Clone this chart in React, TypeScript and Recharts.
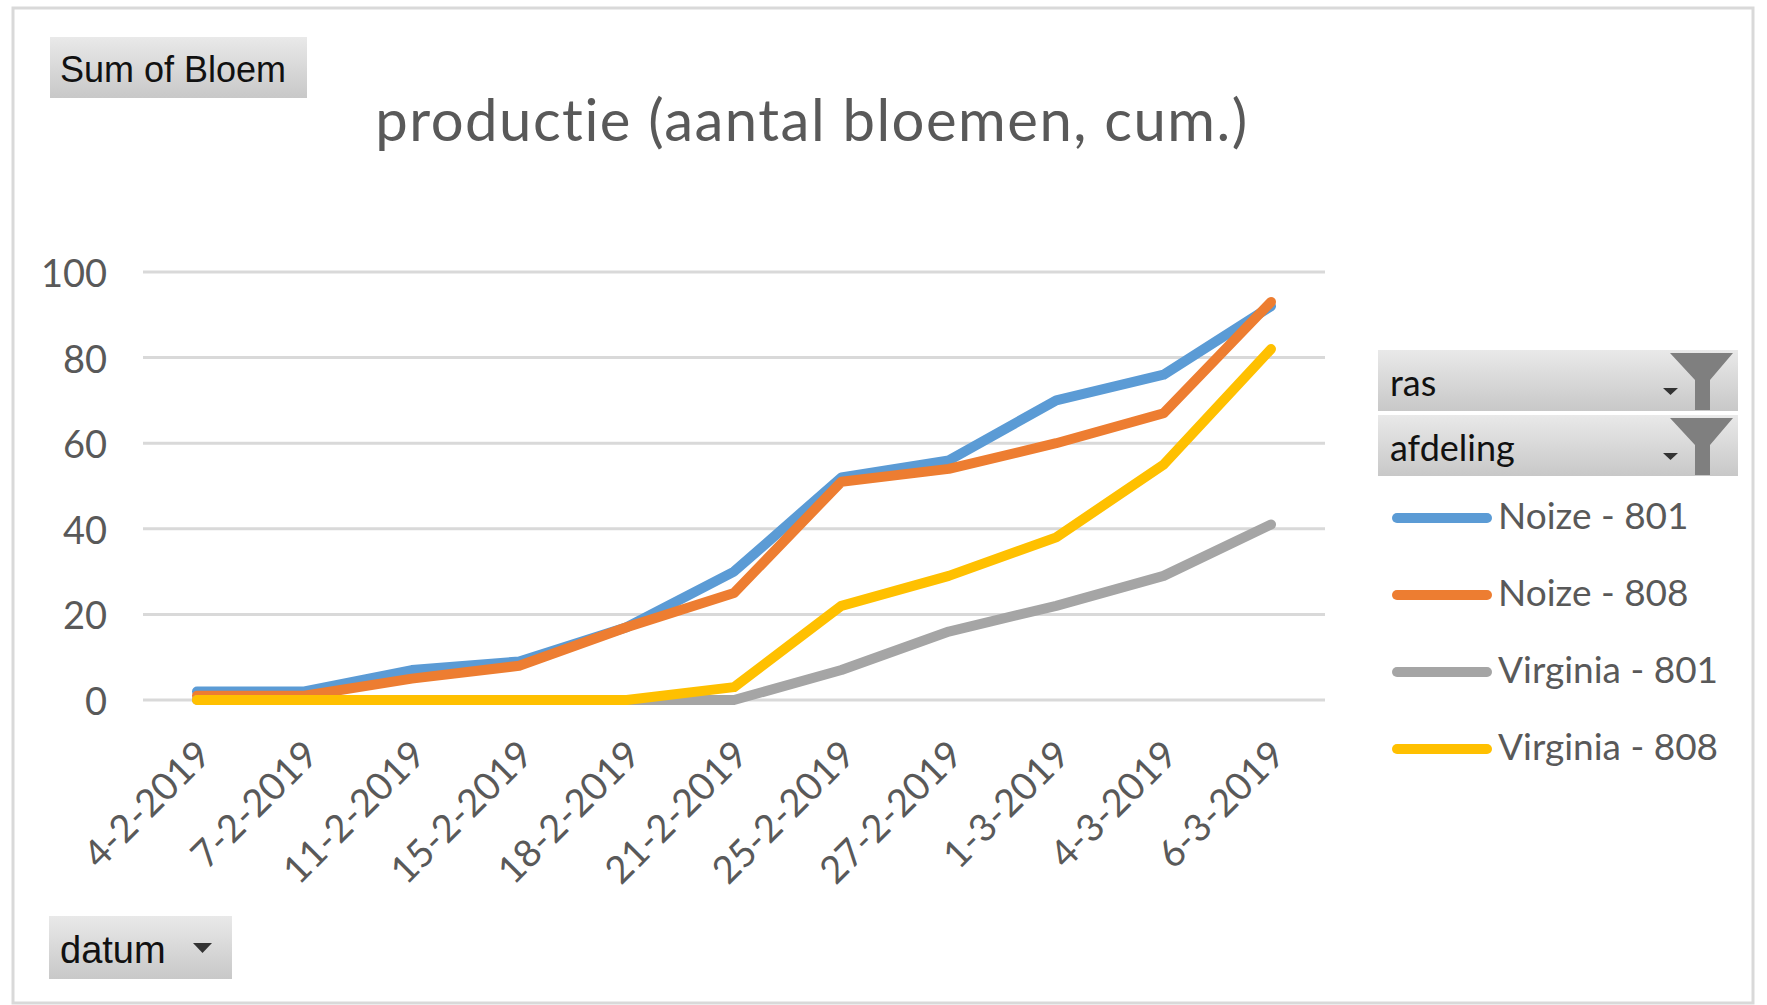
import React from 'react';
import { LineChart, Line, XAxis, YAxis, CartesianGrid } from 'recharts';

const categories = ['4-2-2019', '7-2-2019', '11-2-2019', '15-2-2019', '18-2-2019', '21-2-2019', '25-2-2019', '27-2-2019', '1-3-2019', '4-3-2019', '6-3-2019'];
const noize801 = [2, 2, 7, 9, 17, 30, 52, 56, 70, 76, 92];
const noize808 = [1, 1, 5, 8, 17, 25, 51, 54, 60, 67, 93];
const virginia801 = [0, 0, 0, 0, 0, 0, 7, 16, 22, 29, 41];
const virginia808 = [0, 0, 0, 0, 0, 3, 22, 29, 38, 55, 82];
const seriesKeys = ['n801', 'n808', 'v801', 'v808'];
const seriesNames = ['Noize - 801', 'Noize - 808', 'Virginia - 801', 'Virginia - 808'];
const seriesColors = ['#5B9BD5', '#ED7D31', '#A5A5A5', '#FFC000'];
const yTicks = [0, 20, 40, 60, 80, 100];
const titleText = 'productie (aantal bloemen, cum.)';
const filterFields = ['ras', 'afdeling'];

const data = categories.map((c, i) => ({
  datum: c,
  n801: noize801[i],
  n808: noize808[i],
  v801: virginia801[i],
  v808: virginia808[i],
}));

const FONT = 'Lato, Calibri, sans-serif';
const TXT = '#595959';

const XTick = (props: any) => {
  const { x, y, payload } = props;
  const ax = x + 16;
  const ay = y + 57;
  return (
    <text x={ax} y={ay} transform={`rotate(-45 ${ax} ${ay})`} textAnchor="end" fontFamily={FONT} fontSize={38} fill={TXT}>
      {payload.value}
    </text>
  );
};

const YTick = (props: any) => {
  const { x, y, payload } = props;
  return (
    <text x={x - 36} y={y} textAnchor="end" dominantBaseline="central" fontFamily={FONT} fontSize={38} fill={TXT}>
      {payload.value}
    </text>
  );
};

const Funnel = ({ dy }: { dy: number }) => (
  <g transform={`translate(0 ${dy})`}>
    <polygon points="1670,353 1733,353 1710,380 1710,410 1695,410 1695,380" fill="#7f7f7f" />
    <polygon points="1663,388 1678,388 1670.5,395" fill="#333" />
  </g>
);

export default function App() {
  return (
    <div style={{ position: 'absolute', left: 0, top: 0, width: 1767, height: 1005, background: '#fff' }}>
      <div style={{ position: 'absolute', left: 0, top: 0 }}>
        <LineChart width={1767} height={1005} data={data} margin={{ top: 272, right: 442, bottom: 205, left: 103 }}>
          <CartesianGrid vertical={false} stroke="#d9d9d9" strokeWidth={3} />
          <XAxis
            dataKey="datum"
            interval={0}
            axisLine={false}
            tickLine={false}
            tickSize={0}
            tickMargin={0}
            height={100}
            padding={{ left: 54, right: 54 }}
            tick={<XTick />}
          />
          <YAxis
            domain={[0, 100]}
            ticks={yTicks}
            axisLine={false}
            tickLine={false}
            tickSize={0}
            tickMargin={0}
            width={40}
            tick={<YTick />}
          />
          {seriesKeys.map((k, i) => (
            <Line
              key={k}
              dataKey={k}
              name={seriesNames[i]}
              stroke={seriesColors[i]}
              strokeWidth={10}
              strokeLinecap="round"
              strokeLinejoin="round"
              dot={false}
              activeDot={false}
              isAnimationActive={false}
            />
          ))}
        </LineChart>
      </div>
      <svg width={1767} height={1005} style={{ position: 'absolute', left: 0, top: 0, pointerEvents: 'none' }}>
        <defs>
          <linearGradient id="btnGrad" x1="0" y1="0" x2="0" y2="1">
            <stop offset="0%" stopColor="#e9e9e9" />
            <stop offset="100%" stopColor="#c8c8c8" />
          </linearGradient>
        </defs>
        <rect x={13} y={8} width={1740} height={995} fill="none" stroke="#d9d9d9" strokeWidth={3} />
        <text x={812} y={141} textAnchor="middle" fontFamily={FONT} fontSize={58} letterSpacing={1.5} fill={TXT}>{titleText}</text>

        <rect x={50} y={37} width={257} height={61} fill="url(#btnGrad)" />
        <text x={60} y={82} fontFamily="'Liberation Sans', Arial, sans-serif" fontSize={36} fill="#111">Sum of Bloem</text>

        <rect x={49} y={916} width={183} height={63} fill="url(#btnGrad)" />
        <text x={60} y={963} fontFamily="'Liberation Sans', Arial, sans-serif" fontSize={38} fill="#111">datum</text>
        <polygon points="193,943 212,943 202.5,953" fill="#333" />

        {filterFields.map((f, i) => (
          <g key={f}>
            <rect x={1378} y={350 + i * 65} width={360} height={61} fill="url(#btnGrad)" />
            <text x={1390} y={396 + i * 65} fontFamily={FONT} fontSize={36} fill="#111">{f}</text>
            <Funnel dy={i * 65} />
          </g>
        ))}

        {seriesNames.map((n, i) => (
          <g key={n}>
            <line x1={1397} x2={1487} y1={518 + i * 77} y2={518 + i * 77} stroke={seriesColors[i]} strokeWidth={10} strokeLinecap="round" />
            <text x={1498} y={529 + i * 77} fontFamily={FONT} fontSize={37} fill={TXT}>{n}</text>
          </g>
        ))}
      </svg>
    </div>
  );
}
